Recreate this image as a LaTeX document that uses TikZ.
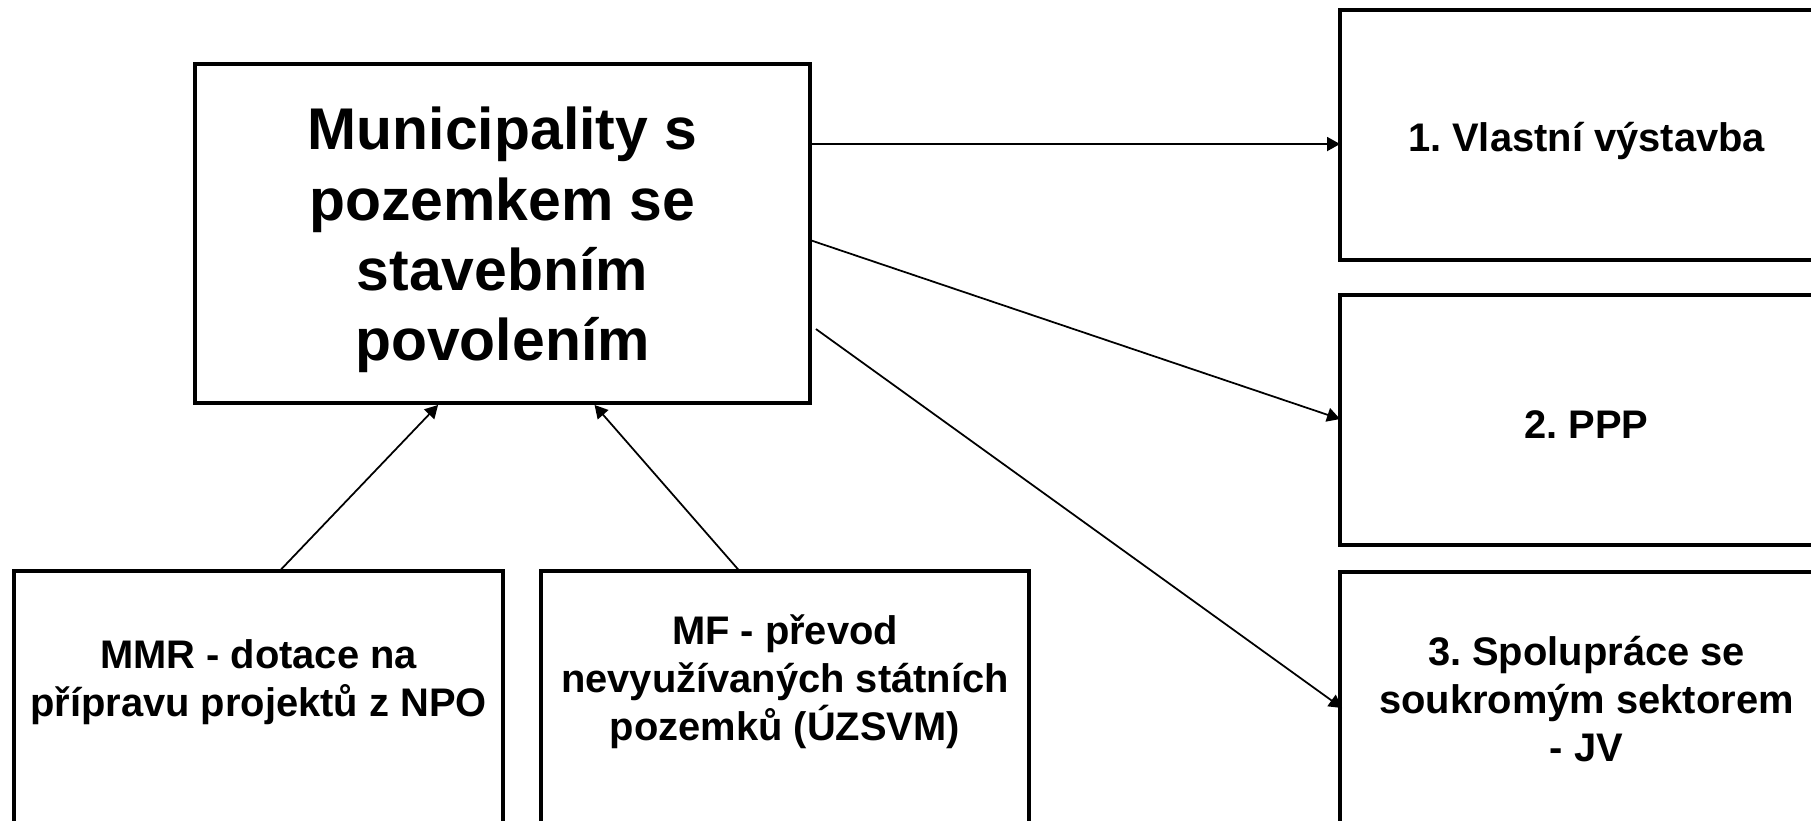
\documentclass[tikz,border=0pt]{standalone}
\usepackage{fontspec}
\setmainfont{Liberation Sans}
\usetikzlibrary{arrows.meta,calc}
\frenchspacing
\begin{document}
\begin{tikzpicture}[x=0.02cm, y=-0.02cm, >={Triangle[length=0.26cm,width=0.28cm]},
  box/.style={draw, line width=2.3pt, outer sep=0pt, inner sep=0pt},
  big/.style={align=center, font=\fontsize{33.5}{40}\selectfont\bfseries},
  small/.style={align=center, font=\fontsize{22.7}{27.2}\selectfont\bfseries},
  arr/.style={->, line width=1pt}]
\useasboundingbox (0,0) rectangle (1811,821);

\node[box, minimum width=12.3cm, minimum height=6.78cm] (main) at (502.5,233.5) {};
\node[big] (maintxt) at (502.5,240) {Municipality s\\pozemkem se\\stavebním\\povolením};

\node[box, minimum width=9.86cm, minimum height=5cm] (vlastni) at (1586.5,135) {};
\node[box, minimum width=9.86cm, minimum height=5cm] (ppp) at (1586.5,420) {};
\node[box, minimum width=9.86cm, minimum height=5.12cm] (jv) at (1586.5,700) {};
\node[small] (vlastnitxt) at (1586.5,141) {1. Vlastní výstavba};
\node[small] (ppptxt) at (1586.5,424.5) {2. PPP};
\node[small] (jvtxt) at (1586.5,699) {3. Spolupráce se\\soukromým sektorem\\- JV};

\node[box, minimum width=9.78cm, minimum height=5.4cm] (mmr) at (258.5,706) {};
\node[box, minimum width=9.76cm, minimum height=5.4cm] (mf) at (785,706) {};
\node[small] (mmrtxt) at (258.5,682.5) {MMR - dotace na\\přípravu projektů z NPO};
\node[small] (mftxt) at (785,682) {MF - převod\\nevyužívaných státních\\pozemků (ÚZSVM)};

\draw[arr] ($(main.north east)+(0,80)$) -- ($(vlastni.north west)+(0,134)$);
\draw[arr] ($(main.north east)+(0,176)$) -- ($(ppp.north west)+(0,124)$);
\draw[arr] ($(main.north east)+(6,265)$) -- ($(jv.north west)+(2,136)$);
\draw[arr] ($(mmr.north west)+(265.5,0)$) -- ($(main.south west)+(243,2)$);
\draw[arr] ($(mf.north west)+(198.5,0)$) -- ($(main.south west)+(399.5,2)$);
\end{tikzpicture}
\end{document}
